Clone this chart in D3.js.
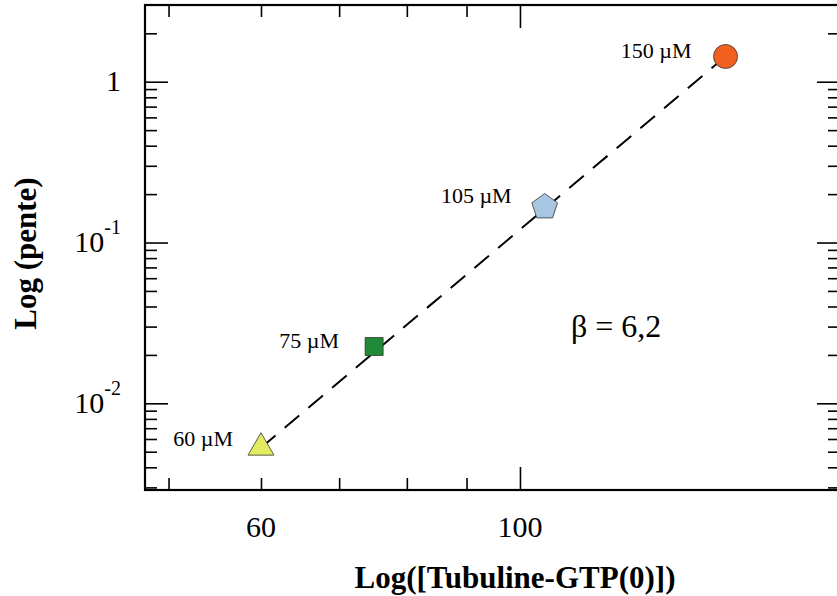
<!DOCTYPE html>
<html><head><meta charset="utf-8">
<script src="https://cdn.jsdelivr.net/npm/d3@7"></script>
<style>body{margin:0;background:#fff} svg{display:block}</style>
</head><body>
<svg id="chart" width="837" height="596"></svg>
<script>
// ---- data ----
const concentrations = [60, 75, 105, 150];
const pente = [0.0053, 0.02255, 0.1663, 1.435];
const pointLabels = ["60 µM", "75 µM", "105 µM", "150 µM"];
const pointShapes = ["triangle", "square", "pentagon", "circle"];
const pointColors = ["#e3ec5e", "#1f8a36", "#a6c6e2", "#f2601f"];
const fitConc = [60, 150];
const fitPente = [0.0053, 1.435];
const xMinorTicks = [50, 60, 70, 80, 90];
const xMajorTicks = [100];
const xTickLabels = [60, 100];
const yMajorTicks = [0.01, 0.1, 1];
const yTickBase = ["10", "10", "1"];
const yTickExp = ["-2", "-1", ""];
const betaText = "β = 6,2";
const xTitle = "Log([Tubuline-GTP(0)])";
const yTitle = "Log (pente)";

// ---- layout ----
const W = 837, H = 596;
const L = 145, T = 5, R = 840, B = 490;
const labelDx = [-28, -35, -33, -34];
const labelDy = [-2, 1.5, -3.7, 1.6];
const serif = "'Liberation Serif','Times New Roman',serif";

const svg = d3.select("#chart");
svg.append("rect").attr("width", W).attr("height", H).attr("fill", "#fff");

const x = d3.scaleLog().domain([47.73, 188]).range([L, R]);
const y = d3.scaleLog().domain([0.00289, 3]).range([B, T]);

// minor y ticks inside domain
const yMinorTicks = [];
[0.001, 0.01, 0.1, 1].forEach(dec => {
  for (let k = 2; k <= 9; k++) {
    const v = dec * k;
    if (v > y.domain()[0] && v < y.domain()[1] * 0.99) yMinorTicks.push(v);
  }
});

function styleAxis(g) {
  g.select(".domain").remove();
  g.selectAll(".tick line").attr("stroke", "#000").attr("stroke-width", 1.6);
  g.selectAll(".tick text").remove();
}
const majorLen = 23, minorLen = 12;
// left
svg.append("g").attr("transform", `translate(${L},0)`)
  .call(d3.axisLeft(y).tickValues(yMajorTicks).tickSizeInner(-majorLen).tickSizeOuter(0)).call(styleAxis);
svg.append("g").attr("transform", `translate(${L},0)`)
  .call(d3.axisLeft(y).tickValues(yMinorTicks).tickSizeInner(-minorLen).tickSizeOuter(0)).call(styleAxis);
// right
svg.append("g").attr("transform", `translate(${R},0)`)
  .call(d3.axisRight(y).tickValues(yMajorTicks).tickSizeInner(-majorLen).tickSizeOuter(0)).call(styleAxis);
svg.append("g").attr("transform", `translate(${R},0)`)
  .call(d3.axisRight(y).tickValues(yMinorTicks).tickSizeInner(-minorLen).tickSizeOuter(0)).call(styleAxis);
// bottom
svg.append("g").attr("transform", `translate(0,${B})`)
  .call(d3.axisBottom(x).tickValues(xMajorTicks).tickSizeInner(-majorLen).tickSizeOuter(0)).call(styleAxis);
svg.append("g").attr("transform", `translate(0,${B})`)
  .call(d3.axisBottom(x).tickValues(xMinorTicks).tickSizeInner(-minorLen).tickSizeOuter(0)).call(styleAxis);
// top
svg.append("g").attr("transform", `translate(0,${T})`)
  .call(d3.axisTop(x).tickValues(xMajorTicks).tickSizeInner(-majorLen).tickSizeOuter(0)).call(styleAxis);
svg.append("g").attr("transform", `translate(0,${T})`)
  .call(d3.axisTop(x).tickValues(xMinorTicks).tickSizeInner(-minorLen).tickSizeOuter(0)).call(styleAxis);

// frame
svg.append("rect").attr("x", L).attr("y", T).attr("width", R - L).attr("height", B - T)
  .attr("fill", "none").attr("stroke", "#000").attr("stroke-width", 2.2);

// x tick labels
svg.selectAll("text.xtl").data(xTickLabels).join("text")
  .attr("class", "xtl")
  .attr("x", d => x(d)).attr("y", 537)
  .attr("text-anchor", "middle")
  .attr("font-family", serif).attr("font-size", 30)
  .text(d => d);

// y tick labels
yMajorTicks.forEach((v, i) => {
  const t = svg.append("text")
    .attr("x", 121).attr("y", y(v) + 9.5)
    .attr("text-anchor", "end")
    .attr("font-family", serif).attr("font-size", 30);
  t.append("tspan").text(yTickBase[i]);
  if (yTickExp[i]) t.append("tspan").attr("dy", -18).attr("font-size", 20).text(yTickExp[i]);
});

// titles
svg.append("text").attr("x", 515).attr("y", 588).attr("text-anchor", "middle")
  .attr("font-family", serif).attr("font-weight", "bold").attr("font-size", 31).text(xTitle);
svg.append("text").attr("transform", `translate(36,253.5) rotate(-90)`).attr("text-anchor", "middle")
  .attr("font-family", serif).attr("font-weight", "bold").attr("font-size", 31).text(yTitle);

// fit line
const fit = fitConc.map((c, i) => [c, fitPente[i]]);
svg.append("path").datum(fit)
  .attr("d", d3.line().x(d => x(d[0])).y(d => y(d[1])))
  .attr("fill", "none").attr("stroke", "#000").attr("stroke-width", 2)
  .attr("stroke-dasharray", "19,12");

// markers
const pentagon = {
  draw(ctx, size) {
    const r = Math.sqrt(size / 2.3776);
    for (let k = 0; k < 5; k++) {
      const a = -Math.PI / 2 + k * 2 * Math.PI / 5;
      const px = r * Math.cos(a), py = r * Math.sin(a);
      if (k === 0) ctx.moveTo(px, py); else ctx.lineTo(px, py);
    }
    ctx.closePath();
  }
};
const shapeType = { triangle: d3.symbolTriangle, square: d3.symbolSquare, pentagon: pentagon, circle: d3.symbolCircle };
const shapeSize = { triangle: 292, square: 324, pentagon: 2.3776 * 13.5 * 13.5, circle: Math.PI * 12 * 12 };
const pts = concentrations.map((c, i) => ({ c, v: pente[i], lab: pointLabels[i], shape: pointShapes[i], col: pointColors[i], dx: labelDx[i], dy: labelDy[i] }));

svg.selectAll("path.mk").data(pts).join("path")
  .attr("class", "mk")
  .attr("transform", d => `translate(${x(d.c)},${y(d.v)})`)
  .attr("d", d => d3.symbol().type(shapeType[d.shape]).size(shapeSize[d.shape])())
  .attr("fill", d => d.col).attr("stroke", "#333").attr("stroke-width", 0.8);

svg.selectAll("text.pl").data(pts).join("text")
  .attr("class", "pl")
  .attr("x", d => x(d.c) + d.dx).attr("y", d => y(d.v) + d.dy)
  .attr("text-anchor", "end")
  .attr("font-family", serif).attr("font-size", 22)
  .text(d => d.lab);

// beta annotation
svg.append("text").attr("x", 571).attr("y", 337)
  .attr("font-family", serif).attr("font-size", 32).text(betaText);
</script>
</body></html>
